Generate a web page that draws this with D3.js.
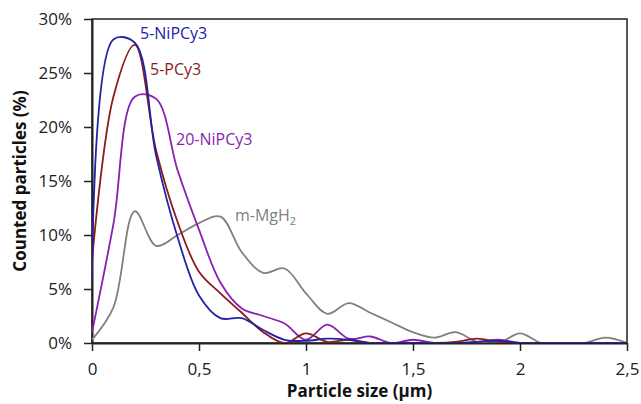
<!DOCTYPE html>
<html><head><meta charset="utf-8">
<script src="https://cdn.jsdelivr.net/npm/d3@7"></script>
<style>body{margin:0;background:#fff}svg{display:block}</style>
</head><body>
<svg id="chart" width="641" height="404"></svg>
<script>
const sizes = [0,0.1,0.2,0.3,0.4,0.5,0.6,0.7,0.8,0.9,1.0,1.1,1.2,1.3,1.4,1.5,1.6,1.7,1.8,1.9,2.0,2.1,2.2,2.3,2.4,2.5];
const niPCy3_5  = [6.0,28.1,27.8,17.3,9.8,4.4,2.3,2.3,1.2,0.3,0.2,0.4,0.3,0,0,0,0,0,0.1,0.2,0,0,0,0,0,0];
const pCy3_5    = [7.6,22.8,27.6,17.8,11.2,6.6,4.6,2.8,1.0,0,0.9,0.1,0.3,0,0,0,0,0.1,0.4,0.1,0,0,0,0,0,0];
const niPCy3_20 = [1.0,11.0,22.8,22.6,16.0,10.5,5.6,3.2,2.5,1.8,0.3,1.7,0.4,0.6,0,0.3,0,0,0.1,0.3,0,0,0,0,0,0];
const mMgH2     = [0.3,3.3,12.2,9.0,10.0,11.1,11.7,8.4,6.5,6.9,4.6,2.7,3.7,2.8,1.9,1.0,0.5,1.0,0.1,0,0.9,0,0,0,0.5,0];
const yTicks = [0,5,10,15,20,25,30];
const xTicks = [0,0.5,1,1.5,2,2.5];
const seriesNames = ["5-NiPCy3","5-PCy3","20-NiPCy3","m-MgH2"];

const series = [
  {name: seriesNames[0], values: niPCy3_5,  color: "#2222a6"},
  {name: seriesNames[1], values: pCy3_5,    color: "#8b1c1c"},
  {name: seriesNames[2], values: niPCy3_20, color: "#8a1fb0"},
  {name: seriesNames[3], values: mMgH2,     color: "#808080"}
];

const svg = d3.select("#chart");
const m = {left: 92, right: 14, top: 19, bottom: 61};
const W = 641, H = 404;
const x = d3.scaleLinear().domain([0, 2.5]).range([m.left, W - m.right]);
const y = d3.scaleLinear().domain([0, 30]).range([H - m.bottom, m.top]);
const font = "'Open Sans', sans-serif";

svg.append("defs").append("clipPath").attr("id","clip")
  .append("rect").attr("x", m.left).attr("y", m.top - 2)
  .attr("width", x(2.5) - m.left).attr("height", y(0) - m.top + 2);

// frame
svg.append("rect").attr("x", x(0)).attr("y", y(30))
  .attr("width", x(2.5) - x(0)).attr("height", y(0) - y(30))
  .attr("fill", "none").attr("stroke", "#222").attr("stroke-width", 1.5);

// axes
const yAxis = d3.axisLeft(y).tickValues(yTicks).tickFormat(d => d + "%").tickSize(8).tickSizeOuter(0);
const gy = svg.append("g").attr("transform", `translate(${x(0)},0)`).call(yAxis);
gy.select(".domain").attr("stroke", "#222").attr("stroke-width", 2);
gy.selectAll(".tick line").attr("stroke", "#222").attr("stroke-width", 1.5);
gy.selectAll(".tick text").attr("x", -20).attr("font-family", font).attr("font-size", 17).attr("fill", "#222");

const xAxis = d3.axisBottom(x).tickValues(xTicks).tickFormat(d => String(d).replace(".", ",")).tickSize(8).tickSizeOuter(0);
const gx = svg.append("g").attr("transform", `translate(0,${y(0)})`).call(xAxis);
gx.select(".domain").attr("stroke", "#222").attr("stroke-width", 2);
gx.selectAll(".tick line").attr("stroke", "#222").attr("stroke-width", 1.5);
gx.selectAll(".tick text").attr("y", 20).attr("font-family", font).attr("font-size", 17).attr("fill", "#222");

// lines
const line = d3.line().x((d, i) => x(sizes[i])).y(d => y(d)).curve(d3.curveCatmullRom.alpha(0.5));
const gl = svg.append("g").attr("clip-path", "url(#clip)");
series.slice().reverse().forEach(s => {
  gl.append("path").datum(s.values).attr("d", line)
    .attr("fill", "none").attr("stroke", s.color).attr("stroke-width", 1.8);
});

// series labels
const lab = [
  {s: series[0], x: 140, y: 39},
  {s: series[1], x: 150, y: 75},
  {s: series[2], x: 176, y: 145}
];
lab.forEach(l => {
  svg.append("text").attr("x", l.x).attr("y", l.y).attr("font-family", font)
    .attr("font-size", 16).attr("fill", l.s.color).text(l.s.name);
});
const mg = svg.append("text").attr("x", 235).attr("y", 221).attr("font-family", font)
  .attr("font-size", 16).attr("fill", series[3].color);
mg.append("tspan").text("m-MgH");
mg.append("tspan").attr("font-size", 11).attr("dy", 4).text("2");

// axis titles
svg.append("text").attr("x", (x(0) + x(2.5)) / 2).attr("y", 397).attr("text-anchor", "middle")
  .attr("font-family", font).attr("font-weight", "bold").attr("font-size", 17).attr("fill", "#111")
  .text("Particle size (µm)");
svg.append("text").attr("transform", "translate(26,181) rotate(-90)").attr("text-anchor", "middle")
  .attr("font-family", font).attr("font-weight", "bold").attr("font-size", 17).attr("fill", "#111")
  .text("Counted particles (%)");
</script>
</body></html>
